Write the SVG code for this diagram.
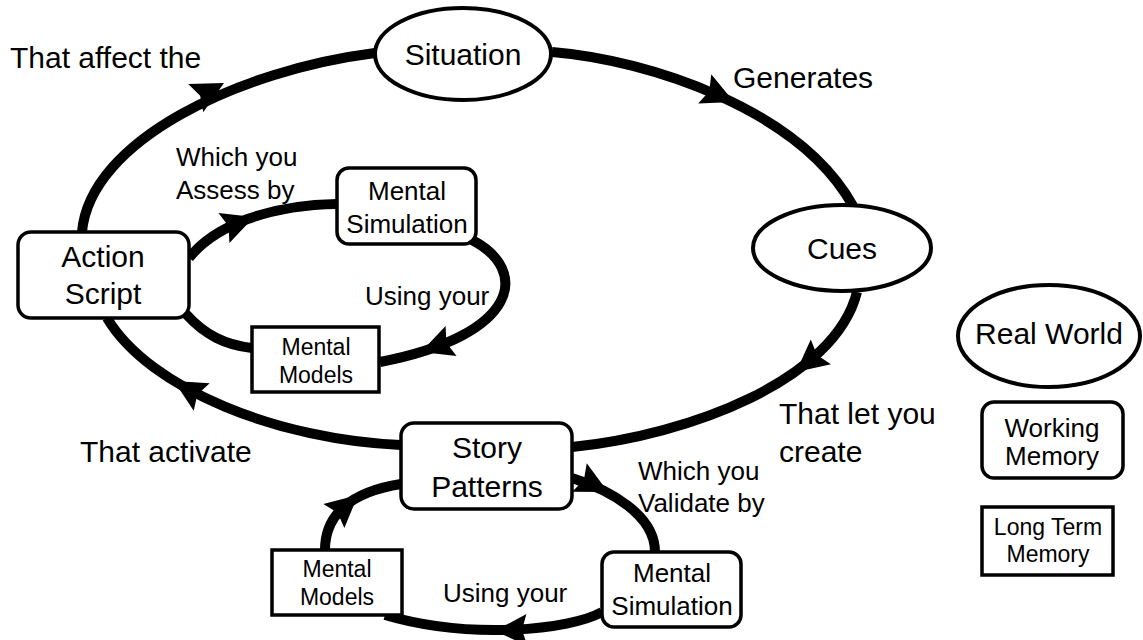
<svg xmlns="http://www.w3.org/2000/svg" width="1143" height="640" viewBox="0 0 1143 640">
<style>
text{font-family:"Liberation Sans",Arial,sans-serif;fill:#000}
.n{text-anchor:middle}
.c{fill:none;stroke:#000;stroke-width:10;stroke-linecap:butt}
.node{fill:#fff;stroke:#000;stroke-width:4}
.box{fill:#fff;stroke:#000;stroke-width:3.5}
.t30{font-size:30px}
.t26{font-size:26px}
.t23{font-size:23px}
.lbl{font-size:30px}
.lbs{font-size:26px}
</style>
<defs>
<path id="ah" d="M0,0 L-32,-16 L-27,0 L-32,16 Z" fill="#000"/>
</defs>
<g id="connectors">
<path class="c" d="M552,52 C650,60 800,110 853,206"/>
<path class="c" d="M857,292 C835,380 690,435 572,447"/>
<path class="c" d="M401,445 C280,440 150,390 107,318"/>
<path class="c" d="M82,232 C90,140 240,70 375,53"/>
<path class="c" d="M189,258 C215,225 270,205 337,204"/>
<path class="c" d="M472,240 C530,270 520,335 380,362"/>
<path class="c" d="M186,314 C205,335 225,345 252,348"/>
<path class="c" d="M572,478 C610,490 655,515 655,552"/>
<path class="c" d="M602,612 C570,630 470,640 385,615"/>
<path class="c" d="M325,550 C325,515 350,492 401,484"/>
<use href="#ah" transform="translate(734,102) rotate(24)"/>
<use href="#ah" transform="translate(796,372) rotate(141)"/>
<use href="#ah" transform="translate(174,381) rotate(-150)"/>
<use href="#ah" transform="translate(224,83) rotate(-28)"/>
<use href="#ah" transform="translate(254,217) rotate(-20)"/>
<use href="#ah" transform="translate(421,352) rotate(160)"/>
<use href="#ah" transform="translate(608,492) rotate(27)"/>
<use href="#ah" transform="translate(495,631) rotate(178)"/>
<use href="#ah" transform="translate(358,495) rotate(-41)"/>
</g>
<g id="situation"><ellipse class="node" cx="463" cy="54" rx="88" ry="46"/><text class="n t30" x="463" y="65">Situation</text></g>
<g id="cues"><ellipse class="node" cx="842" cy="248" rx="89" ry="43"/><text class="n t30" x="842" y="259">Cues</text></g>
<g id="real-world"><ellipse class="node" cx="1049" cy="336" rx="91" ry="51"/><text class="n t30" x="1049" y="344">Real World</text></g>
<g id="action-script"><rect class="box" x="18" y="232" width="171" height="86" rx="13"/><text class="n t30" x="103" y="267">Action</text><text class="n t30" x="103" y="304">Script</text></g>
<g id="mental-simulation-1"><rect class="box" x="337" y="168" width="139" height="76" rx="12"/><text class="n t26" x="407" y="200">Mental</text><text class="n t26" x="407" y="233">Simulation</text></g>
<g id="mental-models-1"><rect class="box" x="252" y="327" width="127" height="65"/><text class="n t23" x="316" y="355">Mental</text><text class="n t23" x="316" y="383">Models</text></g>
<g id="story-patterns"><rect class="box" x="401" y="423" width="171" height="86" rx="13"/><text class="n t30" x="487" y="458">Story</text><text class="n t30" x="487" y="497">Patterns</text></g>
<g id="mental-models-2"><rect class="box" x="272" y="550" width="130" height="65"/><text class="n t23" x="337" y="577">Mental</text><text class="n t23" x="337" y="605">Models</text></g>
<g id="mental-simulation-2"><rect class="box" x="602" y="552" width="139" height="75" rx="12"/><text class="n t26" x="672" y="582">Mental</text><text class="n t26" x="672" y="615">Simulation</text></g>
<g id="working-memory"><rect class="box" x="982" y="402" width="141" height="76" rx="12"/><text class="n t26" x="1052" y="437">Working</text><text class="n t26" x="1052" y="465">Memory</text></g>
<g id="long-term-memory"><rect class="box" x="982" y="507" width="131" height="68"/><text class="n t23" x="1048" y="535">Long Term</text><text class="n t23" x="1048" y="562">Memory</text></g>
<g id="labels">
<text class="lbl" x="10" y="68">That affect the</text>
<text class="lbl" x="733" y="88">Generates</text>
<text class="lbs" x="176" y="166">Which you</text>
<text class="lbs" x="176" y="199">Assess by</text>
<text class="lbs" x="365" y="305">Using your</text>
<text class="lbl" x="779" y="424">That let you</text>
<text class="lbl" x="779" y="462">create</text>
<text class="lbl" x="80" y="462">That activate</text>
<text class="lbs" x="638" y="480">Which you</text>
<text class="lbs" x="638" y="512">Validate by</text>
<text class="lbs" x="443" y="602">Using your</text>
</g>
</svg>
